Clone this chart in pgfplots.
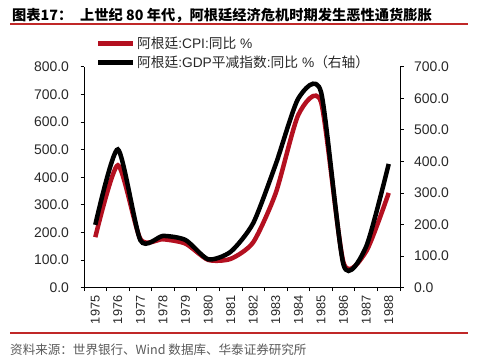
\documentclass[border=0pt]{standalone}
\usepackage{pgfplots}
\pgfplotsset{compat=1.18}
\usepackage{fontspec}
\setmainfont{Liberation Sans}
\newfontfamily\cjk{Noto Sans CJK SC}
\definecolor{cpired}{RGB}{180,16,32}
\definecolor{hdrred}{RGB}{192,40,40}
\definecolor{srcgray}{RGB}{90,90,90}
\definecolor{tickgray}{RGB}{40,40,40}

\pgfplotstableread{
idx cpi
0 182.9
1 443.2
2 176.0
3 175.5
4 159.5
5 100.8
6 104.5
7 164.8
8 343.8
9 626.7
10 672.2
11 90.1
12 131.3
13 343.0
}\cpidata

\pgfplotstableread{
idx defl
0 199
1 438
2 150
3 164
4 151
5 90
6 114
7 205
8 392
9 600
10 620
11 72
12 130
13 392
}\defldata

\begin{document}
\begin{tikzpicture}
\useasboundingbox (0bp,0bp) rectangle (483bp,363bp);
\draw[hdrred, line width=1.5bp] (10bp,339bp) -- (468bp,339bp);
\draw[hdrred, line width=1.5bp] (10bp,30bp) -- (468bp,30bp);
\node[anchor=west, inner sep=0] at (12bp,348bp) {\fontsize{14.3}{16}\selectfont\cjk\bfseries 图表17：};
\node[anchor=west, inner sep=0] at (80bp,348bp) {\fontsize{14.3}{16}\selectfont\cjk\bfseries 上世纪 80 年代，阿根廷经济危机时期发生恶性通货膨胀};
\node[anchor=west, inner sep=0, text=srcgray] at (10bp,13bp) {\fontsize{12.6}{14}\selectfont\cjk 资料来源：世界银行、Wind 数据库、华泰证券研究所};

\begin{axis}[
  at={(84bp,75.3bp)}, anchor=south west,
  scale only axis, width=316bp, height=221bp,
  xmin=-0.5, xmax=13.5, ymin=0, ymax=800,
  axis x line*=bottom, axis y line*=left,
  tick align=outside, major tick length=3.5bp,
  axis line style={black, line width=0.8bp},
  every tick/.style={black, line width=0.8bp},
  xtick={-0.5,0.5,...,13.5}, xticklabels={},
  extra x ticks={0,1,...,13},
  extra x tick labels={1975,1976,1977,1978,1979,1980,1981,1982,1983,1984,1985,1986,1987,1988},
  extra x tick style={major tick length=0pt},
  xticklabel style={yshift=-4.5bp, rotate=90, anchor=east, font=\fontsize{12.8}{14}\selectfont, text=tickgray},
  ytick={0,100,...,800},
  yticklabel style={xshift=-8bp, font=\fontsize{14}{16}\selectfont, text=tickgray},
  /pgf/number format/.cd, fixed, fixed zerofill, precision=1, assume math mode=true,
]
\addplot[cpired, line width=4.5bp, smooth, tension=0.4] table[x=idx, y=cpi] {\cpidata};
\end{axis}

\begin{axis}[
  at={(84bp,75.3bp)}, anchor=south west,
  scale only axis, width=316bp, height=221bp,
  xmin=-0.5, xmax=13.5, ymin=0, ymax=700,
  axis x line=none, axis y line*=right,
  tick align=outside, major tick length=3.5bp,
  axis line style={black, line width=0.8bp},
  every tick/.style={black, line width=0.8bp},
  ytick={0,100,...,700},
  yticklabel style={xshift=7bp, font=\fontsize{14}{16}\selectfont, text=tickgray},
  /pgf/number format/.cd, fixed, fixed zerofill, precision=1, assume math mode=true,
  /pgfplots/.cd,
  legend style={at={(axis description cs:0.028,1.152)}, anchor=north west, draw=none, fill=none,
    font=\fontsize{13.8}{15}\selectfont, text=tickgray, row sep=3bp,
    nodes={inner sep=1.5bp}},
  legend cell align=left,
  legend image code/.code={\draw[#1] (0bp,0bp) -- (35bp,0bp);},
]
\addlegendimage{cpired, line width=4.5bp}
\addlegendentry{{\cjk 阿根廷}:CPI:{\cjk 同比} \%}
\addplot[black, line width=4.5bp, smooth, tension=0.4] table[x=idx, y=defl] {\defldata};
\addlegendentry{{\cjk 阿根廷}:GDP{\cjk 平减指数}:{\cjk 同比} \%{\cjk（右轴）}}
\end{axis}
\end{tikzpicture}
\end{document}
